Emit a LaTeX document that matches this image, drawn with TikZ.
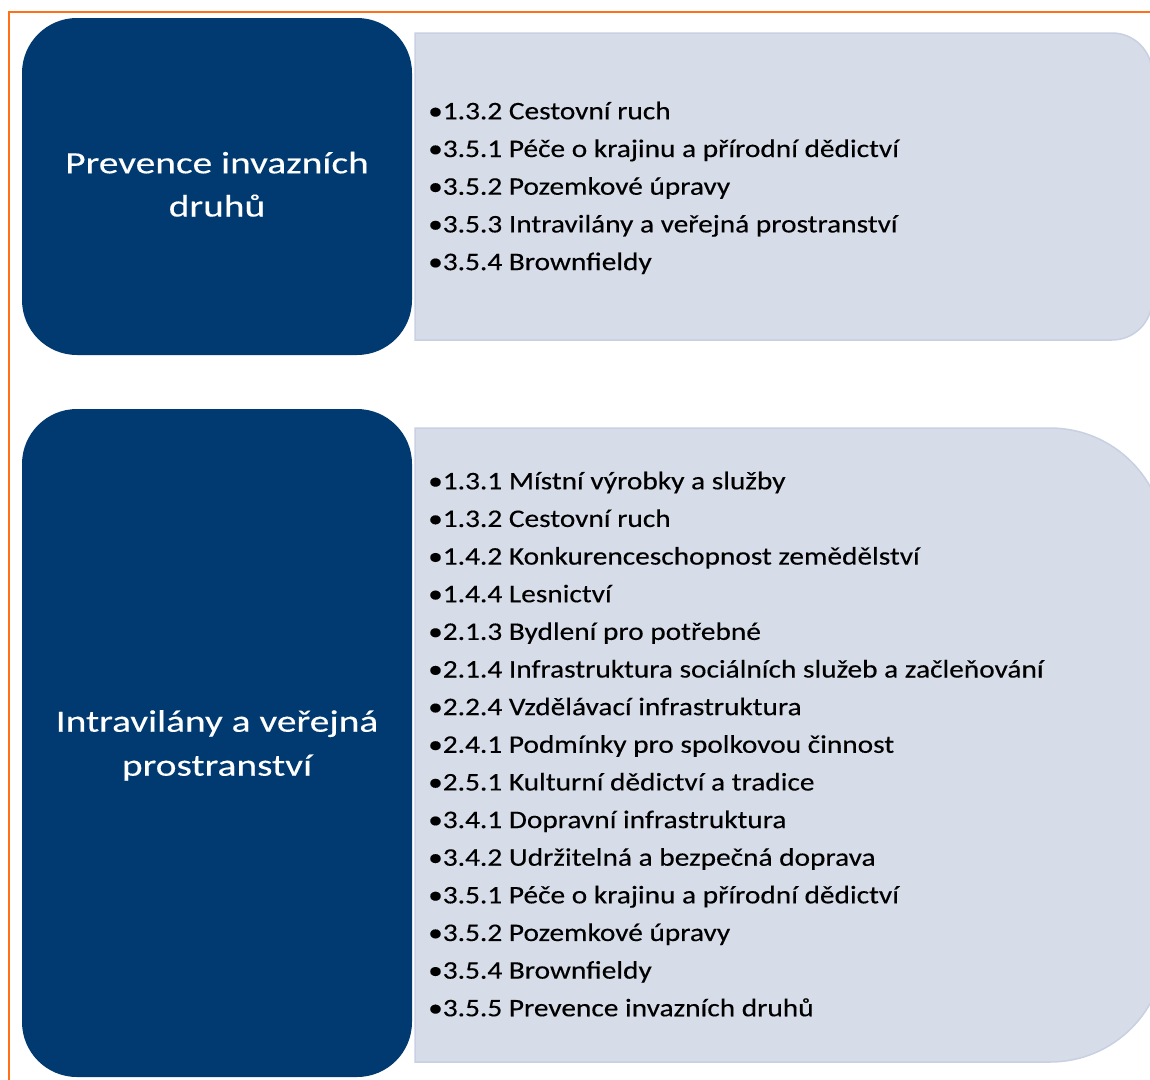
\documentclass[tikz,border=0pt]{standalone}
\usepackage{fontspec}
\setmainfont{Carlito}
\newfontfamily\listfont[FakeStretch=1.16,FakeBold=0.3]{Carlito}
\newfontfamily\headfont[FakeStretch=1.27,FakeBold=0.3]{Carlito}
\definecolor{navy}{RGB}{0,58,112}
\definecolor{panel}{RGB}{214,220,232}
\definecolor{paneledge}{RGB}{200,208,226}
\definecolor{frameorange}{RGB}{255,112,24}
\tikzset{
  darkbox/.style={fill=navy, rounded corners=55pt},
  lightbox/.style={fill=panel, draw=paneledge, line width=1.5pt},
  frameline/.style={draw=frameorange, line width=2pt},
  listtext/.style={font=\listfont\fontsize{25.3}{37.7}\selectfont, text=black, inner sep=0pt, anchor=base west},
  headtext/.style={font=\headfont\fontsize{31}{44}\selectfont, text=white, inner sep=0pt, anchor=base}
}
\begin{document}
\begin{tikzpicture}[x=1pt,y=-1pt]
\useasboundingbox (0,0) rectangle (1150,1079);
\clip (0,0) rectangle (1150,1079);
\fill[white] (0,0) rectangle (1150,1079);
% frame
\draw[frameline] (9,1090) -- (9,12) -- (1160,12);
% top group
\path[lightbox] (415,33) -- (1112,33) .. controls (1134.1,33) and (1152,50.9) .. (1152,73)
  -- (1152,300) .. controls (1152,322.1) and (1134.1,340) .. (1112,340) -- (415,340) -- cycle;
\fill[darkbox] (22,18) rectangle (412,355);
\node[headtext] (h1a) at (217,173.3) {Prevence invazních};
\node[headtext] (h1b) at (217,216.5) {druhů};
\foreach \t [count=\i from 0] in {1.3.2 Cestovní ruch,
  3.5.1 Péče o krajinu a přírodní dědictví,
  3.5.2 Pozemkové úpravy,
  3.5.3 Intravilány a veřejná prostranství,
  3.5.4 Brownfieldy}
  \node[listtext] (a\i) at (428,119.3+37.7*\i) {•\t};
% bottom group
\path[lightbox] (415,428) -- (1050,428) .. controls (1113.5,428) and (1165,479.5) .. (1165,543)
  -- (1165,947) .. controls (1165,1010.5) and (1113.5,1062) .. (1050,1062) -- (415,1062) -- cycle;
\fill[darkbox] (22,409) rectangle (412,1077);
\node[headtext] (h2a) at (217,731.7) {Intravilány a veřejná};
\node[headtext] (h2b) at (217,775.7) {prostranství};
\foreach \t [count=\i from 0] in {1.3.1 Místní výrobky a služby,
  1.3.2 Cestovní ruch,
  1.4.2 Konkurenceschopnost zemědělství,
  1.4.4 Lesnictví,
  2.1.3 Bydlení pro potřebné,
  2.1.4 Infrastruktura sociálních služeb a začleňování,
  2.2.4 Vzdělávací infrastruktura,
  2.4.1 Podmínky pro spolkovou činnost,
  2.5.1 Kulturní dědictví a tradice,
  3.4.1 Dopravní infrastruktura,
  3.4.2 Udržitelná a bezpečná doprava,
  3.5.1 Péče o krajinu a přírodní dědictví,
  3.5.2 Pozemkové úpravy,
  3.5.4 Brownfieldy,
  3.5.5 Prevence invazních druhů}
  \node[listtext] (b\i) at (428,489.3+37.64*\i) {•\t};
\end{tikzpicture}
\end{document}
